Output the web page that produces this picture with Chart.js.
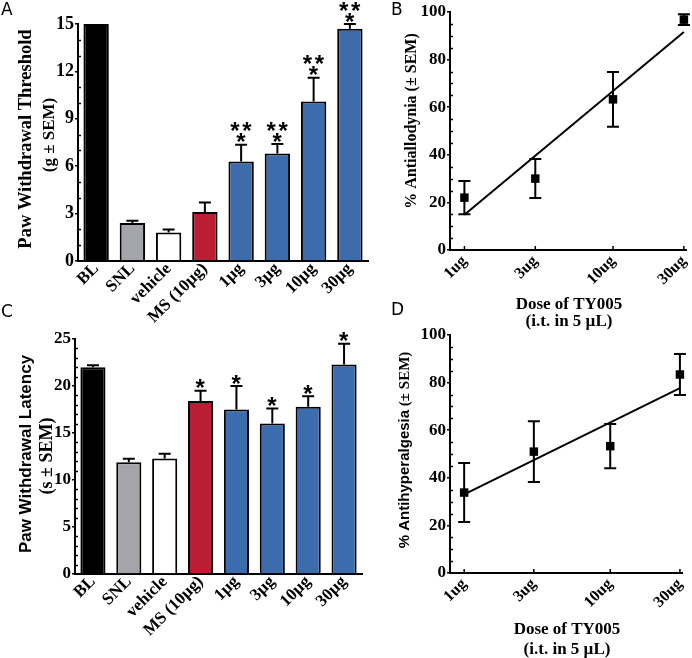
<!DOCTYPE html>
<html>
<head>
<meta charset="utf-8">
<script src="https://cdn.jsdelivr.net/npm/chart.js@4.4.0/dist/chart.umd.min.js"></script>
<style>
  body { margin: 0; background: #fff; }
  #wrap { position: relative; width: 692px; height: 658px; overflow: hidden; }
  #wrap canvas { position: absolute; left: 0; top: 0; }
  .panel { position: absolute; font: 17px "DejaVu Sans", sans-serif; line-height: 18px; color: #000; }
</style>
</head>
<body>
<div id="wrap">
  <canvas id="chartA" width="692" height="658"></canvas>
  <canvas id="chartB" width="692" height="658"></canvas>
  <canvas id="chartC" width="692" height="658"></canvas>
  <canvas id="chartD" width="692" height="658"></canvas>
  <div class="panel" style="left:1px;top:0px">A</div>
  <div class="panel" style="left:391px;top:0px">B</div>
  <div class="panel" style="left:1px;top:302px">C</div>
  <div class="panel" style="left:391px;top:300px">D</div>
</div>
<script>
// --- data ---
const groups = ["BL", "SNL", "vehicle", "MS (10µg)", "1µg", "3µg", "10µg", "30µg"];
const groupColors = ["#000000", "#a4a5aa", "#ffffff", "#bb1d34", "#3d6cac", "#3d6cac", "#3d6cac", "#3d6cac"];

const thresholdMean = [15, 2.4, 1.8, 3.1, 6.3, 6.8, 10.1, 14.7];
const thresholdSem = [0, 0.15, 0.2, 0.6, 1.05, 0.6, 1.5, 0.3];
const thresholdStars = [0, 0, 0, 0, 3, 3, 3, 3];
const thresholdTicks = [0, 3, 6, 9, 12, 15];

const latencyMean = [22.0, 11.9, 12.3, 18.4, 17.5, 16.0, 17.8, 22.3];
const latencySem = [0.2, 0.35, 0.5, 1.1, 2.5, 1.6, 1.1, 2.2];
const latencyStars = [0, 0, 0, 1, 1, 1, 1, 1];
const latencyTicks = [0, 5, 10, 15, 20, 25];

const doses = [1, 3, 10, 30];
const doseLabels = ["1ug", "3ug", "10ug", "30ug"];
const allodyniaMean = [22, 30, 63.3, 96.8];
const allodyniaSem = [7, 8.2, 11.5, 2.3];
const allodyniaFit = [14.8, 91.6];   // fitted line at 1ug and 30ug
const hyperalgesiaMean = [33.8, 51, 53.3, 83.4];
const hyperalgesiaSem = [12.4, 12.8, 9.3, 8.6];
const hyperalgesiaFit = [33, 77.7];
const percentTicks = [0, 20, 40, 60, 80, 100];

const SERIF = '"Liberation Serif", "Times New Roman", serif';
const SANS = '"Liberation Sans", Arial, sans-serif';

// error bars (+ significance stars) drawn from the scales
const errorBars = {
  id: "errorBars",
  afterDatasetsDraw(chart) {
    const ctx = chart.ctx;
    chart.data.datasets.forEach((ds, i) => {
      if (!ds.sem) return;
      const meta = chart.getDatasetMeta(i);
      const ys = chart.scales[meta.yAxisID];
      const cap = ds.cap || 6;
      ctx.save();
      ctx.strokeStyle = "#000";
      ctx.lineWidth = 2;
      meta.data.forEach((el, j) => {
        const raw = ds.data[j];
        const val = typeof raw === "object" ? raw.y : raw;
        const s = ds.sem[j];
        const x = el.x;
        const top = ys.getPixelForValue(val + s);
        if (s) {
          ctx.beginPath();
          if (ds.twoSided) {
            const bot = ys.getPixelForValue(val - s);
            ctx.moveTo(x, bot); ctx.lineTo(x, top);
            ctx.moveTo(x - cap, bot); ctx.lineTo(x + cap, bot);
          } else {
            ctx.moveTo(x, el.y); ctx.lineTo(x, top);
          }
          ctx.moveTo(x - cap, top); ctx.lineTo(x + cap, top);
          ctx.stroke();
        }
        const n = ds.stars ? ds.stars[j] : 0;
        if (n) {
          ctx.font = "bold 24px " + SANS;
          ctx.fillStyle = "#000";
          const m = ctx.measureText("*");
          const star = (cx, cy) => {
            const bx = cx - (m.actualBoundingBoxRight - m.actualBoundingBoxLeft) / 2;
            const by = cy + (m.actualBoundingBoxAscent - m.actualBoundingBoxDescent) / 2;
            ctx.textAlign = "left";
            ctx.textBaseline = "alphabetic";
            ctx.fillText("*", bx + m.actualBoundingBoxLeft, by);
          };
          star(x, top - 7);
          if (n === 3) { star(x - 6, top - 18); star(x + 6, top - 18); }
        }
      });
      ctx.restore();
    });
  }
};

// inward minor ticks on y, inward ticks on the dose axis
const minorTicks = {
  id: "minorTicks",
  afterDraw(chart, args, opts) {
    const ctx = chart.ctx;
    const y = chart.scales.y;
    ctx.save();
    ctx.strokeStyle = "#000";
    ctx.lineWidth = 1.5;
    if (opts.step) {
      const major = y.options.ticks.stepSize;
      const n = Math.round((y.max - y.min) / opts.step);
      for (let i = 1; i < n; i++) {
        const v = y.min + i * opts.step;
        if (Math.abs(v / major - Math.round(v / major)) < 1e-6) continue;
        const py = Math.round(y.getPixelForValue(v)) + 0.5;
        ctx.beginPath(); ctx.moveTo(y.right, py); ctx.lineTo(y.right + 3, py); ctx.stroke();
      }
    }
    if (opts.xTicks) {
      const x = chart.scales.x;
      x.ticks.forEach(t => {
        const px = x.getPixelForValue(t.value);
        ctx.beginPath(); ctx.moveTo(px, x.top); ctx.lineTo(px, x.top - 4); ctx.stroke();
      });
    }
    ctx.restore();
  }
};

// axis titles with mixed fonts
const axisText = {
  id: "axisText",
  afterDraw(chart, args, opts) {
    const ctx = chart.ctx;
    (opts.items || []).forEach(it => {
      ctx.save();
      ctx.translate(it.x, it.y);
      if (it.rotate) ctx.rotate(-Math.PI / 2);
      ctx.fillStyle = "#000";
      ctx.textAlign = "left";
      ctx.textBaseline = "middle";
      let total = 0;
      it.parts.forEach(p => { ctx.font = p[1]; total += ctx.measureText(p[0]).width; });
      let cx = -total / 2;
      it.parts.forEach(p => { ctx.font = p[1]; ctx.fillText(p[0], cx, 0); cx += ctx.measureText(p[0]).width; });
      ctx.restore();
    });
  }
};

const Y_W = 40;
function padFor(area, xh) {
  return { left: area.left - Y_W, top: area.top, right: 692 - area.right, bottom: 658 - area.bottom - xh };
}

function yAxis(ticks, tickSize) {
  return {
    min: ticks[0], max: ticks[ticks.length - 1],
    afterFit: s => { s.width = Y_W; },
    ticks: { stepSize: ticks[1] - ticks[0], color: "#000", padding: 1, font: { family: SERIF, weight: "bold", size: tickSize } },
    grid: { drawOnChartArea: false, drawTicks: true, tickLength: 3, color: "#000", lineWidth: 1.5 },
    border: { display: true, color: "#000", width: 2 }
  };
}

function barChart(id, area, mean, sem, stars, ticks, tickSize, minorStep, titleItems) {
  return new Chart(document.getElementById(id), {
    type: "bar",
    data: {
      labels: groups,
      datasets: [{
        data: mean, sem: sem, stars: stars, cap: 6,
        backgroundColor: groupColors, borderColor: "#000", borderWidth: 2,
        barPercentage: 0.7, categoryPercentage: 1
      }]
    },
    options: {
      responsive: false, animation: false,
      layout: { padding: padFor(area, 80) },
      plugins: { legend: { display: false }, tooltip: { enabled: false },
        minorTicks: { step: minorStep }, axisText: { items: titleItems } },
      scales: {
        x: {
          afterFit: s => { s.height = 80; },
          ticks: { color: "#000", padding: -10, minRotation: 45, maxRotation: 45, autoSkip: false,
            font: { family: SERIF, weight: "bold", size: 17 } },
          grid: { display: false },
          border: { display: true, color: "#000", width: 2 }
        },
        y: yAxis(ticks, tickSize)
      }
    },
    plugins: [errorBars, minorTicks, axisText]
  });
}

function doseChart(id, area, mean, sem, fit, titleItems) {
  return new Chart(document.getElementById(id), {
    type: "scatter",
    data: {
      datasets: [
        {
          data: doses.map((d, i) => ({ x: d, y: mean[i] })), sem: sem, twoSided: true, cap: 6,
          pointStyle: "rect", pointRadius: 6, backgroundColor: "#000", borderWidth: 0, clip: false
        },
        {
          type: "line", data: [{ x: doses[0], y: fit[0] }, { x: doses[doses.length - 1], y: fit[1] }],
          borderColor: "#000", borderWidth: 2, pointRadius: 0, fill: false, clip: false
        }
      ]
    },
    options: {
      responsive: false, animation: false,
      layout: { padding: padFor(area, 40) },
      plugins: { legend: { display: false }, tooltip: { enabled: false },
        minorTicks: { step: 5, xTicks: true }, axisText: { items: titleItems } },
      scales: {
        x: {
          type: "logarithmic", min: 0.8, max: 31,
          afterFit: s => { s.height = 40; },
          afterBuildTicks: s => { s.ticks = doses.map(v => ({ value: v })); },
          ticks: { color: "#000", padding: -6, minRotation: 45, maxRotation: 45, autoSkip: false,
            callback: (v, i) => doseLabels[i],
            font: { family: SERIF, weight: "bold", size: 16 } },
          grid: { display: false },
          border: { display: true, color: "#000", width: 2 }
        },
        y: yAxis(percentTicks, 17)
      }
    },
    plugins: [errorBars, minorTicks, axisText]
  });
}

const doseTitle = (x, y1, y2) => [
  { x: x, y: y1, parts: [["Dose of TY005", "bold 17px " + SERIF]] },
  { x: x, y: y2, parts: [["(i.t. in 5 µL)", "bold 17px " + SERIF]] }
];

barChart("chartA", { left: 78, top: 24, right: 368, bottom: 261 },
  thresholdMean, thresholdSem, thresholdStars, thresholdTicks, 18, 1, [
    { x: 26, y: 139, rotate: true, parts: [["Paw Withdrawal Threshold", "bold 18.5px " + SERIF]] },
    { x: 50, y: 135, rotate: true, parts: [["(g ± SEM)", "bold 17px " + SERIF]] }
  ]);

doseChart("chartB", { left: 450, top: 12, right: 688, bottom: 250 },
  allodyniaMean, allodyniaSem, allodyniaFit, [
    { x: 412, y: 121, rotate: true, parts: [["% Antiallodynia (± SEM)", "bold 16px " + SERIF]] },
    ...doseTitle(569, 305, 322)
  ]);

barChart("chartC", { left: 75, top: 339, right: 362, bottom: 574 },
  latencyMean, latencySem, latencyStars, latencyTicks, 17, 1, [
    { x: 26, y: 454, rotate: true, parts: [["Paw Withdrawal Latency", "bold 17px " + SANS]] },
    { x: 47, y: 456, rotate: true, parts: [["(s ± SEM)", "bold 18px " + SERIF]] }
  ]);

doseChart("chartD", { left: 450, top: 335, right: 682, bottom: 573 },
  hyperalgesiaMean, hyperalgesiaSem, hyperalgesiaFit, [
    { x: 405, y: 450, rotate: true, parts: [["% Antihyperalgesia", "bold 15px " + SANS], [" (± SEM)", "bold 15px " + SERIF]] },
    ...doseTitle(567, 630, 650)
  ]);
</script>
</body>
</html>
